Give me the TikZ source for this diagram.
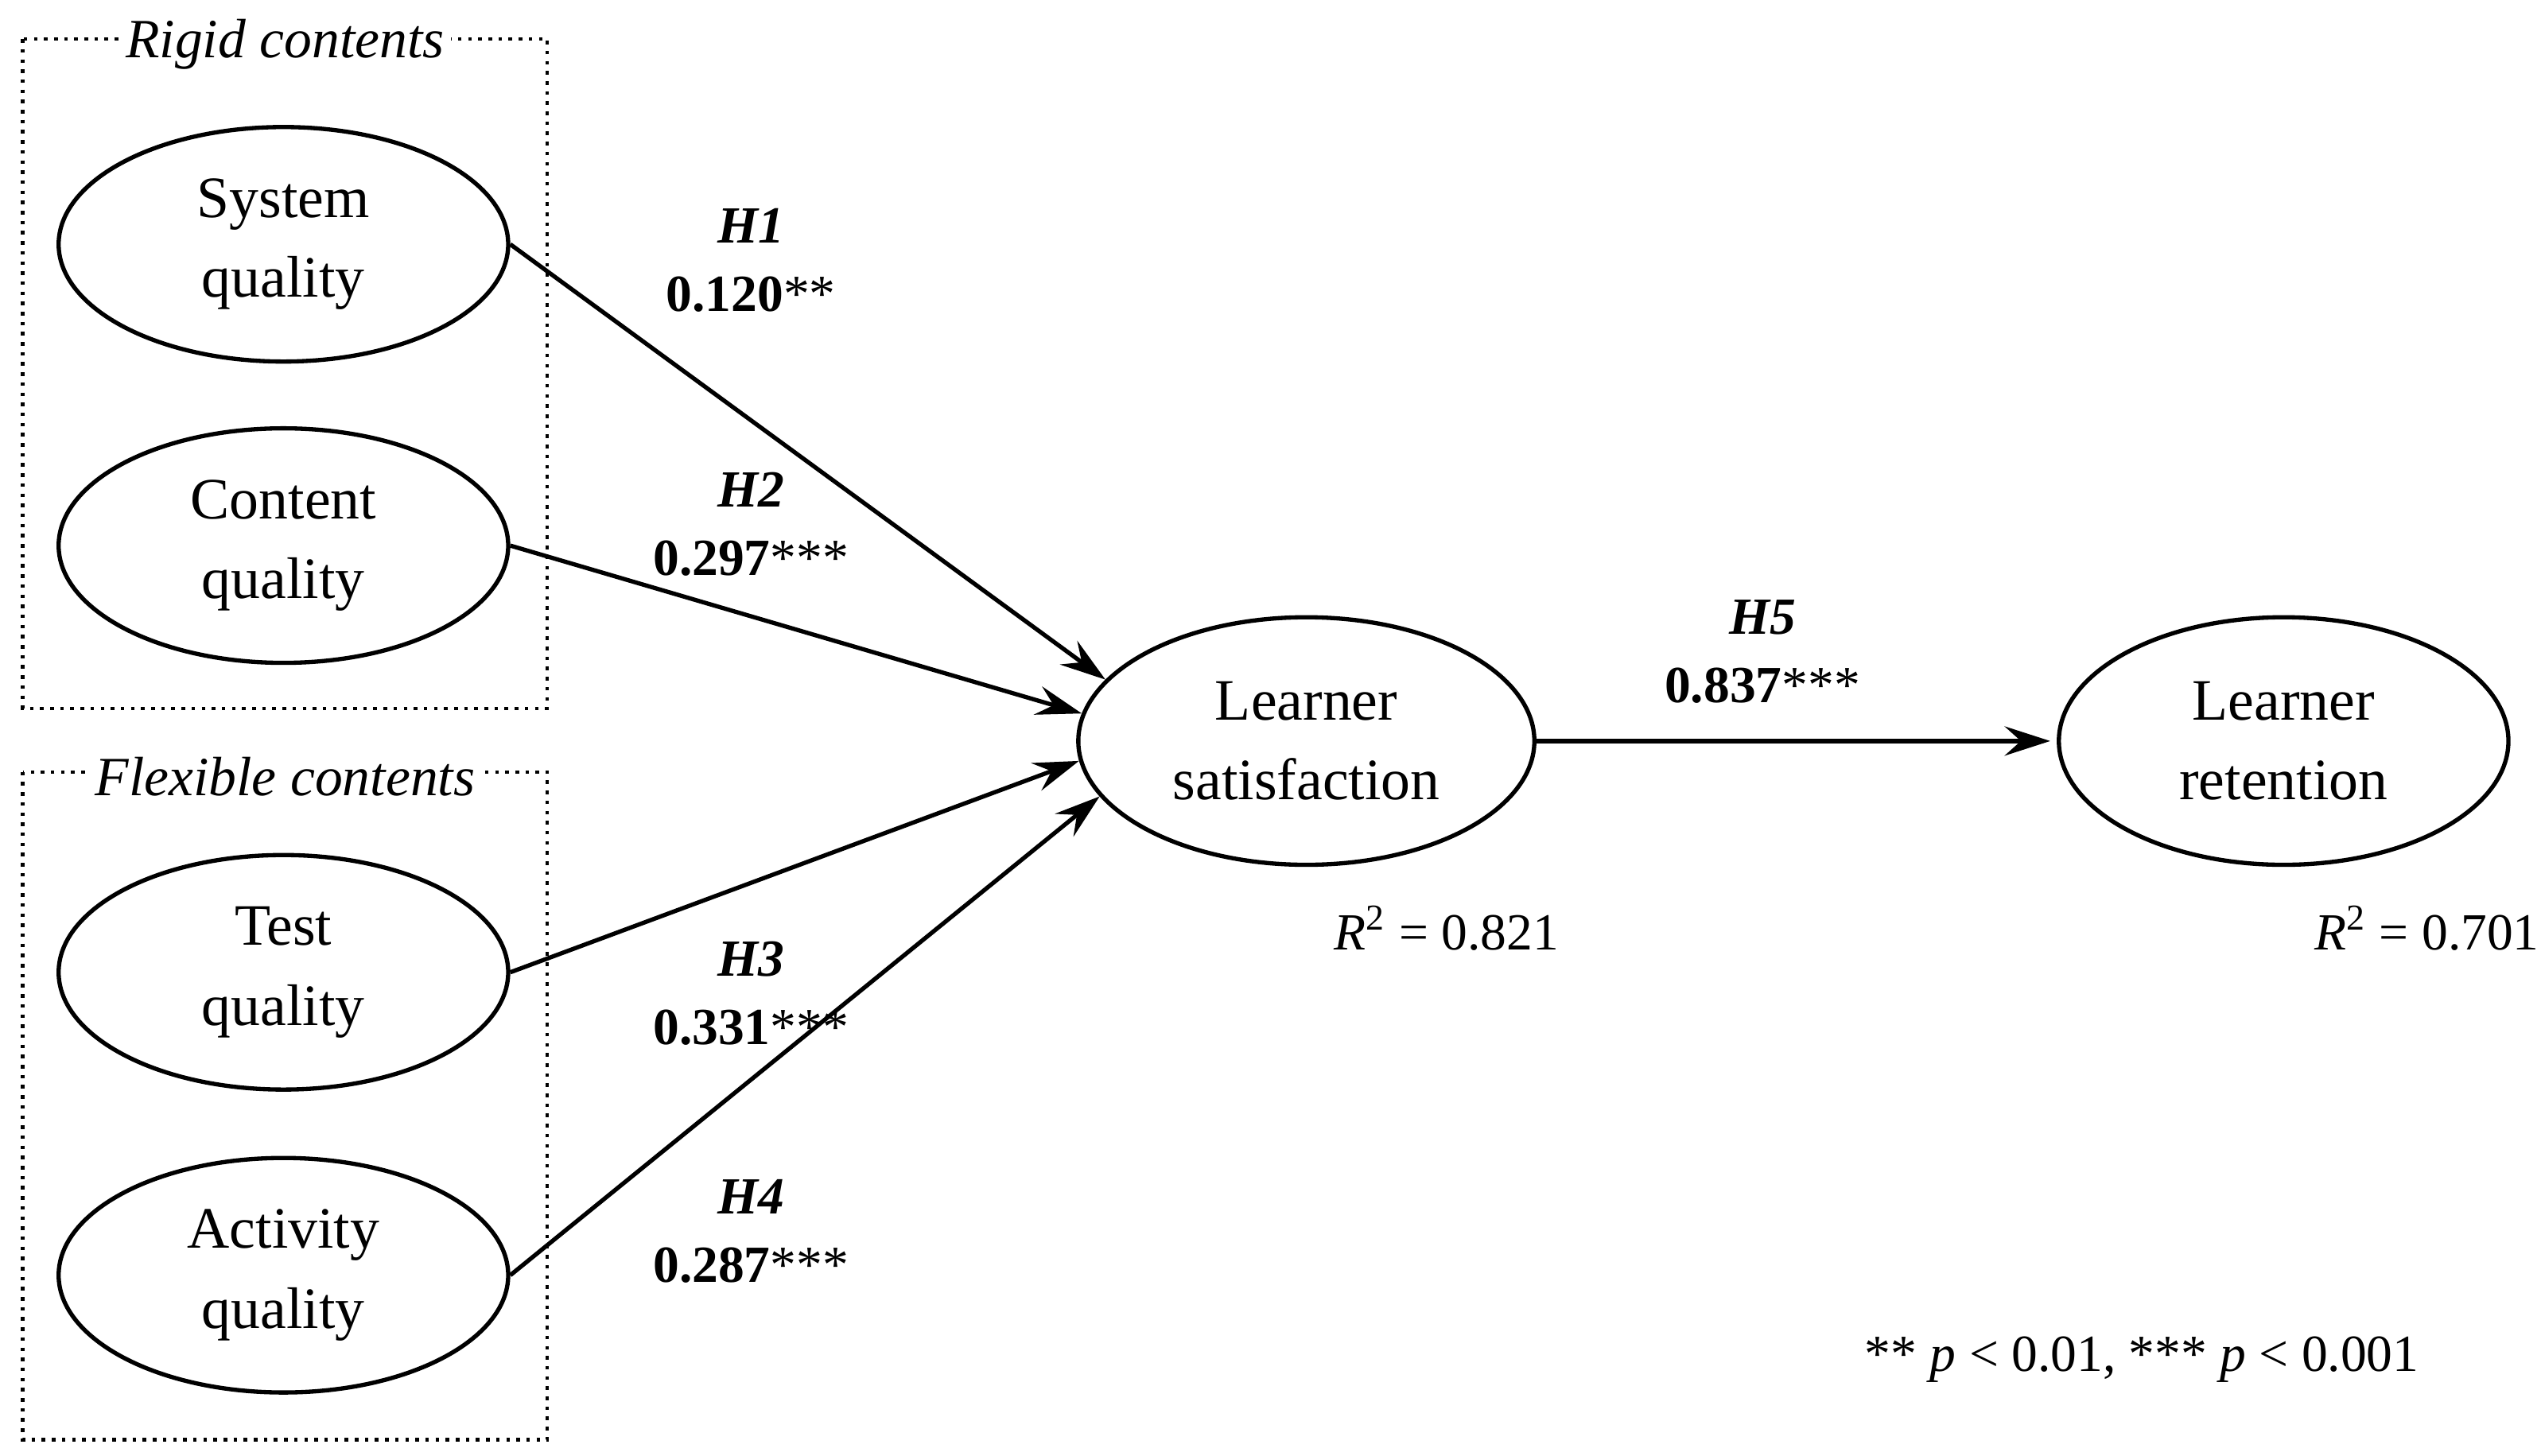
\documentclass[tikz,border=0pt]{standalone}
\usepackage{fontspec}
\setmainfont{Liberation Serif}
\usetikzlibrary{shapes.geometric,arrows.meta}
\begin{document}
\begin{tikzpicture}[x=0.5pt,y=-0.5pt,
  lat/.style={ellipse,draw,line width=1.3pt,minimum width=138pt,minimum height=72pt,align=center,font=\fontsize{18}{24.5}\selectfont,inner sep=0pt},
  grp/.style={draw,line width=1.1pt,dotted},
  ttl/.style={fill=white,font=\fontsize{17}{19}\selectfont\itshape,inner sep=2pt},
  path/.style={line width=1.3pt,-{Stealth[length=14pt,width=9pt,inset=5pt]}},
  lab/.style={font=\fontsize{16}{21}\selectfont\bfseries,align=center},
  txt/.style={font=\fontsize{16}{19}\selectfont}]
\useasboundingbox (0,0) rectangle (1560,894);
\draw[grp] (14,24) rectangle (336,435);
\draw[grp] (14,474) rectangle (336,884);
\node[ttl] (t1) at (175,27) {Rigid contents};
\node[ttl] (t2) at (175,477) {Flexible contents};
\node[lat] (sys) at (174,150) {System\\quality};
\node[lat] (con) at (174,335) {Content\\quality};
\node[lat] (tst) at (174,597) {Test\\quality};
\node[lat] (act) at (174,783) {Activity\\quality};
\node[lat,minimum width=140pt,minimum height=76pt] (ls) at (802,455) {Learner\\satisfaction};
\node[lat,minimum height=76pt] (lr) at (1402,455) {Learner\\retention};
\draw[path] (sys.east) -- (ls.163);
\draw[path] (con.east) -- (ls.173);
\draw[path] (tst.east) -- (ls.185);
\draw[path] (act.east) -- (ls.195);
\draw[path] (ls.east) -- ([xshift=-2pt]lr.west);
\node[lab] (h1) at (461,160) {\textit{H1}\\0.120\textmd{**}};
\node[lab] (h2) at (461,322) {\textit{H2}\\0.297\textmd{***}};
\node[lab] (h3) at (461,610) {\textit{H3}\\0.331\textmd{***}};
\node[lab] (h4) at (461,756) {\textit{H4}\\0.287\textmd{***}};
\node[lab] (h5) at (1082,400) {\textit{H5}\\0.837\textmd{***}};
\node[txt] (r1) at (888,570) {\textit{R}\textsuperscript{2} = 0.821};
\node[txt] (r2) at (1490,570) {\textit{R}\textsuperscript{2} = 0.701};
\node[txt] (fn) at (1315,835) {** \textit{p} < 0.01, *** \textit{p} < 0.001};
\end{tikzpicture}
\end{document}
